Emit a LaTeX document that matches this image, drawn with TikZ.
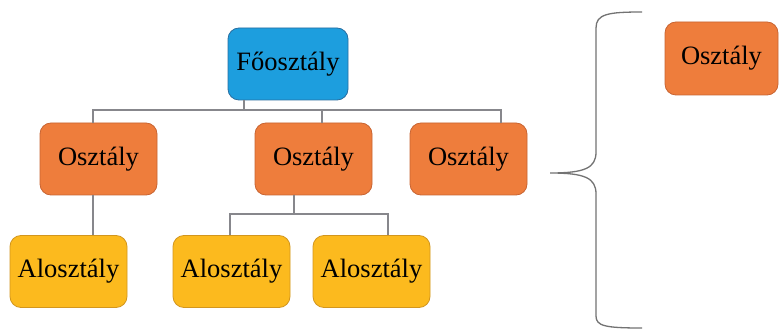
\documentclass[tikz,border=0pt]{standalone}
\usepackage{fontspec}
\setmainfont{Liberation Serif}
\definecolor{fblue}{RGB}{29,158,222}
\definecolor{fblueB}{RGB}{40,110,160}
\definecolor{forange}{RGB}{238,125,60}
\definecolor{forangeB}{RGB}{200,100,50}
\definecolor{fgold}{RGB}{252,186,30}
\definecolor{fgoldB}{RGB}{210,150,30}
\definecolor{conngray}{RGB}{135,135,140}
\begin{document}
\begin{tikzpicture}[x=1pt,y=-1pt,
  box/.style={rectangle,rounded corners=11pt,minimum width=117pt,minimum height=72pt,inner sep=0pt,line width=0.8pt,font=\fontsize{26.5}{30}\selectfont,text=black},
  topbox/.style={box,fill=fblue,draw=fblueB,minimum width=120pt},
  clsbox/.style={box,fill=forange,draw=forangeB},
  subbox/.style={box,fill=fgold,draw=fgoldB},
  conn/.style={draw=conngray,line width=1.1pt},
  bracestyle/.style={draw=gray!90!black,line width=1.3pt}]
\useasboundingbox (0,0) rectangle (779,331);
\fill[white] (0,0) rectangle (779,331);
\node[topbox] (f) at (288,64) {Főosztály};
\node[clsbox] (o1) at (98.5,159) {Osztály};
\node[clsbox] (o2) at (313.5,159) {Osztály};
\node[clsbox] (o3) at (468.5,159) {Osztály};
\node[subbox] (a1) at (68.5,271.5) {Alosztály};
\node[subbox] (a2) at (231.5,271.5) {Alosztály};
\node[subbox] (a3) at (371.5,271.5) {Alosztály};
\node[clsbox,minimum width=113pt,minimum height=73pt] (r) at (721.5,58.5) {Osztály};
\coordinate (bl) at (93,110);
\coordinate (br) at (501,110);
\coordinate (bf) at (244,110);
\coordinate (bm) at (322,110);
\draw[conn] (f.south -| bf) -- (bf);
\draw[conn] (o1.north -| bl) -- (bl) -- (br) -- (o3.north -| br);
\draw[conn] (bm) -- (o2.north -| bm);
\coordinate (s1) at (93,215);
\draw[conn] (o1.south -| s1) -- (a1.north -| s1);
\coordinate (cl) at (230,214);
\coordinate (cr) at (388,214);
\coordinate (cm) at (294,214);
\draw[conn] (o2.south -| cm) -- (cm);
\draw[conn] (a2.north -| cl) -- (cl) -- (cr) -- (a3.north -| cr);
\coordinate (tip) at (550,173);
\draw[bracestyle] (642,12) .. controls (608,12) and (596,14) .. (596,28) -- (596,152)
  .. controls (596,168) and (585,173) .. (tip)
  .. controls (585,173) and (596,178) .. (596,194) -- (596,316)
  .. controls (596,326) and (605,328) .. (642,328);
\end{tikzpicture}
\end{document}
